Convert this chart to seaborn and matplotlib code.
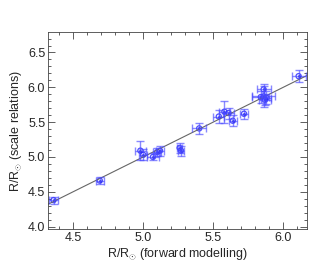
import numpy as np
import pandas as pd
import matplotlib
matplotlib.use('Agg')
import matplotlib.pyplot as plt
import seaborn as sns
from matplotlib.ticker import MultipleLocator

sns.set_style('ticks')
plt.rcParams['font.family'] = ['Liberation Sans', 'DejaVu Sans']
plt.rcParams['mathtext.fontset'] = 'custom'
plt.rcParams['mathtext.rm'] = 'Liberation Sans'

# radius from forward modelling vs scale relations
r_fwd = [4.36, 4.69, 4.98, 5.00, 5.07, 5.10, 5.12, 5.26, 5.27, 5.40, 5.54, 5.58, 5.61, 5.64,
         5.72, 5.84, 5.86, 5.86, 5.87, 5.88, 6.11]
r_scl = [4.38, 4.66, 5.09, 5.03, 5.00, 5.07, 5.09, 5.13, 5.09, 5.41, 5.58, 5.65, 5.63, 5.52,
         5.62, 5.86, 5.97, 5.87, 5.82, 5.85, 6.16]
err_fwd = [0.03, 0.03, 0.04, 0.03, 0.04, 0.03, 0.03, 0.02, 0.02, 0.05, 0.04, 0.04, 0.04, 0.03,
           0.03, 0.06, 0.05, 0.08, 0.04, 0.03, 0.05]
err_scl = [0.05, 0.05, 0.14, 0.08, 0.05, 0.06, 0.07, 0.07, 0.07, 0.08, 0.09, 0.16, 0.08, 0.08,
           0.07, 0.09, 0.08, 0.15, 0.08, 0.09, 0.09]

df = pd.DataFrame({'fwd': r_fwd, 'scl': r_scl})
one2one = pd.DataFrame({'x': [4.32, 6.17], 'y': [4.32, 6.17]})

fig = plt.figure(figsize=(3.33, 2.67), dpi=100)
ax = fig.add_axes([0.144, 0.141, 0.778, 0.738])

sns.lineplot(data=one2one, x='x', y='y', color='#666666', lw=0.8, ax=ax)
ax.errorbar(r_fwd, r_scl, xerr=err_fwd, yerr=err_scl, fmt='none', ecolor='#4a4aff',
            alpha=0.65, elinewidth=1.0, capsize=2.8, capthick=1.0)
sns.scatterplot(data=df, x='fwd', y='scl', marker='o', s=14, facecolor='none',
                edgecolor='#2020ff', linewidth=0.9, alpha=0.8, ax=ax)
sns.scatterplot(data=df, x='fwd', y='scl', marker='o', s=4, color='#1010dd',
                linewidth=0, ax=ax)

ax.set_xlim(4.32, 6.17)
ax.set_ylim(3.96, 6.79)
ax.xaxis.set_major_locator(MultipleLocator(0.5))
ax.xaxis.set_minor_locator(MultipleLocator(0.1))
ax.yaxis.set_major_locator(MultipleLocator(0.5))
ax.yaxis.set_minor_locator(MultipleLocator(0.1))
ax.tick_params(which='both', direction='in', top=True, right=True, color='#444444',
               labelsize=9, pad=2)
ax.tick_params(which='major', length=5, width=0.6)
ax.tick_params(which='minor', length=2.5, width=0.6)
for s in ax.spines.values():
    s.set_linewidth(0.6)
    s.set_color('#444444')

ax.set_xlabel(r'R/R$_{\odot}$ (forward modelling)', fontsize=9, labelpad=1)
ax.set_ylabel(r'R/R$_{\odot}$ (scale relations)', fontsize=9, labelpad=3)

fig.savefig('out.png', dpi=100)
